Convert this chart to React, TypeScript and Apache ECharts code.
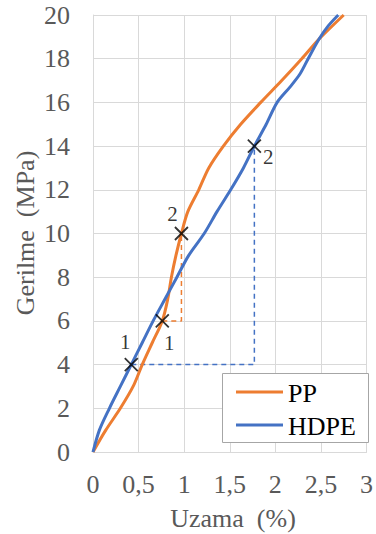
import React, { useEffect, useRef } from "react";
import * as echarts from "echarts";

const ppCurve: [number, number][] = [
  [0, 0], [0.14, 1], [0.3, 2], [0.44, 3], [0.54, 4], [0.65, 5], [0.76, 6], [0.82, 7],
  [0.86, 8], [0.91, 9], [0.97, 10], [1.04, 11], [1.16, 12], [1.27, 13], [1.43, 14],
  [1.62, 15], [1.84, 16], [2.07, 17], [2.29, 18], [2.48, 18.9], [2.75, 20],
];
const hdpeCurve: [number, number][] = [
  [0, 0], [0.07, 1], [0.18, 2], [0.3, 3], [0.42, 4], [0.54, 5], [0.66, 6], [0.79, 7],
  [0.92, 8], [1.05, 9], [1.22, 10], [1.36, 11], [1.51, 12], [1.65, 13], [1.77, 14],
  [1.9, 15], [2.02, 16], [2.16, 16.7], [2.27, 17.3], [2.36, 18], [2.48, 18.9],
  [2.58, 19.5], [2.69, 20],
];
const ppPoints: [number, number][] = [[0.76, 6], [0.97, 10]];
const hdpePoints: [number, number][] = [[0.42, 4], [1.77, 14]];
const ppDash: [number, number][] = [[0.76, 6], [0.97, 6], [0.97, 10]];
const hdpeDash: [number, number][] = [[0.42, 4], [1.77, 4], [1.77, 14]];
const pointLabels = ["1", "2"];
const seriesNames = ["PP", "HDPE"];
const xTitle = "Uzama  (%)";
const yTitle = "Gerilme  (MPa)";

const ORANGE = "#ED7D31";
const BLUE = "#4472C4";
const SERIF = "Liberation Serif";
const FONT26 = "26px 'Liberation Serif'";
const XMARK = "path://M0,0L10,10M10,0L0,10";

export default function App() {
  const ref = useRef<HTMLDivElement>(null);
  useEffect(() => {
    document.body.style.margin = "0";
    const chart = echarts.init(ref.current!, undefined, { renderer: "svg" });
    const markerSeries = (name: string, pts: [number, number][], offsets: number[][]) => ({
      type: "scatter",
      name,
      symbol: XMARK,
      symbolSize: 13,
      itemStyle: { color: "transparent", borderColor: "#000", borderWidth: 1.8 },
      z: 5,
      data: pts.map((p, i) => ({
        value: p,
        label: {
          show: true,
          formatter: pointLabels[i],
          position: "inside",
          offset: offsets[i],
          color: "#000",
          fontFamily: SERIF,
          fontSize: 21,
        },
      })),
    });
    const legendColors = [ORANGE, BLUE];
    const legendYs = [392, 425];
    chart.setOption({
      animation: false,
      textStyle: { fontFamily: SERIF },
      grid: { left: 93, right: 4, top: 15, bottom: 82 },
      xAxis: {
        type: "value",
        min: 0,
        max: 3,
        interval: 0.5,
        axisLine: { show: true, lineStyle: { color: "#D9D9D9" } },
        axisTick: { show: false },
        splitLine: { show: true, lineStyle: { color: "#D9D9D9" } },
        axisLabel: {
          fontFamily: SERIF,
          fontSize: 26,
          color: "#595959",
          margin: 19,
          formatter: (v: number) => String(v).replace(".", ","),
        },
      },
      yAxis: {
        type: "value",
        min: 0,
        max: 20,
        interval: 2,
        axisLine: { show: true, lineStyle: { color: "#D9D9D9" } },
        axisTick: { show: false },
        splitLine: { show: true, lineStyle: { color: "#D9D9D9" } },
        axisLabel: { fontFamily: SERIF, fontSize: 26, color: "#595959", margin: 23 },
      },
      graphic: [
        {
          type: "text",
          x: 233,
          y: 518,
          style: { text: xTitle, font: FONT26, fill: "#595959", align: "center", verticalAlign: "middle" },
        },
        {
          type: "text",
          x: 25,
          y: 233,
          rotation: Math.PI / 2,
          style: { text: yTitle, font: FONT26, fill: "#595959", align: "center", verticalAlign: "middle" },
        },
        {
          type: "rect",
          z: 50,
          shape: { x: 222.5, y: 373.5, width: 146, height: 69 },
          style: { fill: "#fff", stroke: "#A6A6A6", lineWidth: 1 },
        },
        ...seriesNames.flatMap((n, i) => [
          {
            type: "line",
            z: 51,
            shape: { x1: 236, y1: legendYs[i], x2: 283, y2: legendYs[i] },
            style: { stroke: legendColors[i], lineWidth: 3 },
          },
          {
            type: "text",
            z: 51,
            x: 288,
            y: legendYs[i] + 1,
            style: { text: n, font: FONT26, fill: "#000", align: "left", verticalAlign: "middle" },
          },
        ]),
      ],
      series: [
        {
          type: "line",
          name: "PP dash",
          data: ppDash,
          symbol: "none",
          lineStyle: { color: ORANGE, width: 1.5, type: [5, 4] },
          z: 1,
        },
        {
          type: "line",
          name: "HDPE dash",
          data: hdpeDash,
          symbol: "none",
          lineStyle: { color: BLUE, width: 1.5, type: [5, 4] },
          z: 1,
        },
        {
          type: "line",
          name: seriesNames[0],
          data: ppCurve,
          symbol: "none",
          smooth: 0.3,
          lineStyle: { color: ORANGE, width: 3 },
          z: 2,
        },
        {
          type: "line",
          name: seriesNames[1],
          data: hdpeCurve,
          symbol: "none",
          smooth: 0.3,
          lineStyle: { color: BLUE, width: 3 },
          z: 3,
        },
        markerSeries("ppMarks", ppPoints, [[7, 22], [-9, -20]]),
        markerSeries("hdpeMarks", hdpePoints, [[-6, -23], [14, 11]]),
      ],
    });
    return () => chart.dispose();
  }, []);
  return <div ref={ref} style={{ width: 376, height: 534 }} />;
}
